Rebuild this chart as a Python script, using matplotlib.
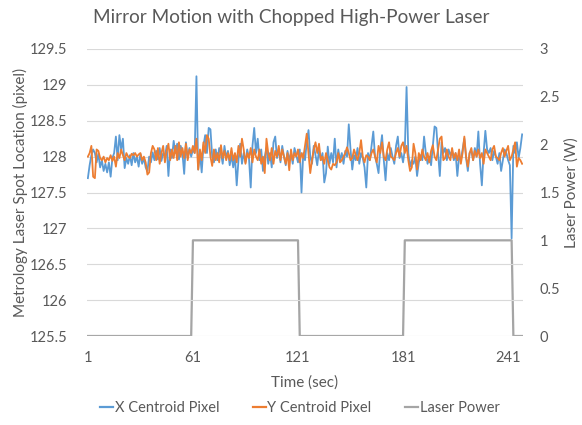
import matplotlib
matplotlib.use("Agg")
import matplotlib.pyplot as plt
from matplotlib.lines import Line2D

plt.rcParams['font.family'] = ['Lato', 'DejaVu Sans']

x_centroid = [
    127.70, 127.88, 128.02, 128.10, 128.05, 127.92, 128.04, 127.85, 127.95, 127.80,
    127.90, 127.78, 127.92, 127.72, 127.98, 128.05, 128.28, 127.95, 128.30, 128.10,
    128.25, 127.84, 127.98, 127.90, 128.02, 127.88, 128.05, 127.92, 128.00, 127.86,
    128.04, 127.90, 127.98, 127.85, 127.80, 128.00, 127.92, 128.06, 127.95, 128.08,
    127.96, 128.12, 127.94, 128.05, 128.00, 128.15, 127.73, 128.10, 127.98, 128.22,
    128.05, 128.18, 127.96, 128.15, 128.05, 127.76, 128.20, 127.98, 128.12, 128.00,
    128.10, 128.05, 129.12, 127.82, 128.05, 127.78, 128.15, 128.30, 128.05, 128.40,
    128.38, 128.00, 127.92, 128.10, 127.95, 128.12, 128.05, 127.90, 128.15, 127.98,
    128.08, 127.88, 128.02, 127.85, 128.00, 127.60, 127.95, 128.18, 127.90, 128.05,
    127.92, 128.10, 127.98, 127.57, 128.15, 128.40, 128.05, 128.25, 127.95, 128.10,
    127.80, 128.00, 128.12, 127.90, 128.05, 127.85, 128.20, 128.28, 127.98, 128.10,
    127.92, 128.15, 128.00, 127.88, 128.08, 127.95, 128.05, 127.90, 128.12, 128.02,
    127.92, 128.10, 127.50, 128.05, 127.95, 128.20, 128.37, 128.00, 127.90, 128.15,
    128.02, 127.88, 128.10, 127.95, 128.05, 127.64, 127.77, 128.14, 127.90, 128.05,
    127.92, 128.25, 127.85, 128.10, 127.95, 128.05, 127.90, 128.08, 128.00, 128.45,
    128.10, 127.82, 128.02, 127.95, 128.12, 127.90, 128.05, 127.98, 127.85, 127.57,
    128.05, 127.95, 128.15, 128.35, 128.00, 127.90, 127.77, 128.10, 128.30, 127.95,
    127.67, 128.05, 127.95, 128.12, 128.00, 127.90, 128.15, 128.28, 127.98, 128.05,
    127.92, 128.10, 128.97, 128.05, 127.86, 127.95, 127.90, 128.00, 127.73, 127.92,
    128.02, 127.95, 128.28, 128.05, 127.90, 128.00, 127.88, 128.15, 128.42, 128.40,
    128.05, 127.73, 128.20, 128.05, 128.12, 127.95, 128.10, 128.02, 128.08, 127.95,
    128.05, 127.73, 128.00, 127.95, 128.10, 128.25, 127.98, 127.80, 128.05, 128.08,
    127.95, 128.12, 128.00, 128.35, 127.90, 127.60, 128.05, 128.36, 128.10, 128.05,
    128.12, 127.95, 128.08, 128.00, 127.90, 128.05, 127.80, 127.95, 128.10, 128.05,
    127.95, 127.88, 126.86, 128.15, 128.05, 128.20, 127.98, 128.12, 128.31,
]

y_centroid = [
    128.00, 128.05, 128.15, 127.72, 127.70, 128.10, 128.08, 127.98, 127.95, 128.00,
    127.92, 127.98, 127.95, 128.02, 127.94, 128.00, 127.86, 128.05, 127.98, 128.10,
    128.02, 127.95, 128.05, 128.00, 127.98, 128.04, 128.02, 128.05, 128.00, 128.03,
    128.05, 127.95, 128.00, 127.92, 127.75, 127.78, 128.05, 128.15, 128.10, 127.95,
    128.12, 127.90, 128.05, 128.15, 127.92, 128.08, 128.18, 127.95, 128.10, 127.98,
    128.15, 127.95, 128.20, 128.00, 128.12, 127.98, 128.18, 127.95, 128.10, 128.05,
    128.15, 128.05, 128.25, 127.82, 128.10, 127.95, 128.20, 128.05, 128.30, 128.25,
    128.00, 127.87, 128.10, 127.95, 128.05, 127.92, 128.16, 127.98, 128.08, 127.95,
    128.05, 127.95, 128.12, 127.95, 128.05, 127.92, 128.15, 128.00, 128.25, 128.10,
    127.90, 128.05, 127.98, 128.12, 127.92, 128.10, 128.00, 127.95, 128.10, 127.90,
    128.00, 127.77, 128.25, 128.05, 127.95, 128.12, 127.90, 128.08, 128.00, 128.15,
    127.95, 128.10, 128.00, 127.90, 128.05, 127.81, 128.10, 127.95, 128.05, 128.00,
    128.10, 127.92, 128.05, 127.98, 128.15, 128.32, 128.05, 127.77, 127.95, 128.10,
    128.20, 128.05, 128.18, 127.95, 128.00, 127.90, 128.05, 127.95, 127.85, 127.82,
    127.90, 127.88, 127.92, 128.05, 127.92, 127.95, 128.00, 128.05, 128.13, 128.05,
    127.95, 127.98, 128.10, 128.02, 127.95, 128.05, 128.23, 128.00, 127.92, 128.02,
    128.00, 127.95, 128.05, 128.10, 128.00, 127.92, 128.15, 128.05, 128.20, 128.00,
    127.95, 128.10, 128.20, 128.00, 127.98, 127.95, 128.05, 128.12, 128.00, 128.15,
    128.20, 128.05, 128.15, 127.95, 127.80, 127.85, 128.18, 128.05, 127.82, 128.05,
    127.95, 128.10, 128.00, 127.95, 128.05, 127.92, 128.08, 128.16, 128.00, 127.95,
    128.10, 128.25, 128.28, 127.95, 127.98, 128.10, 128.00, 127.95, 128.12, 127.98,
    128.05, 127.95, 128.10, 127.90, 128.05, 128.28, 128.00, 127.86, 128.05, 128.12,
    127.95, 128.08, 128.00, 128.10, 127.98, 128.05, 127.90, 128.10, 128.05, 128.00,
    127.95, 128.10, 128.15, 128.00, 127.98, 127.95, 128.05, 128.12, 128.00, 128.08,
    128.15, 127.95, 128.00, 128.10, 128.20, 127.86, 127.98, 127.95, 127.90,
]

# laser power: off 1-60, on 61-121, off 122-181, on 182-243, off 244-249
laser_power = [0] * 60 + [1] * 61 + [0] * 60 + [1] * 62 + [0] * 6

time_sec = list(range(1, len(x_centroid) + 1))
x_tick_labels = [1, 61, 121, 181, 241]
left_ticks = [125.5, 126, 126.5, 127, 127.5, 128, 128.5, 129, 129.5]
right_ticks = [0, 0.5, 1, 1.5, 2, 2.5, 3]

BLUE = '#5B9BD5'
ORANGE = '#ED7D31'
GRAY = '#A5A5A5'
TXT = '#595959'
GRID = '#D9D9D9'

fig = plt.figure(figsize=(5.82, 4.25), dpi=100)
ax = fig.add_axes([87 / 582, 1 - 336 / 425, (523 - 87) / 582, (336 - 49) / 425])
ax2 = ax.twinx()

ax.plot(time_sec, x_centroid, color=BLUE, lw=1.3, zorder=3)
ax.plot(time_sec, y_centroid, color=ORANGE, lw=1.3, zorder=3)
ax2.plot(time_sec, laser_power, color=GRAY, lw=1.6, zorder=2)

ax.set_zorder(ax2.get_zorder() + 1)
ax.patch.set_visible(False)

n = len(time_sec)
ax.set_xlim(0.5, n + 0.5)
ax.set_ylim(125.5, 129.5)
ax2.set_ylim(0, 3)
ax.set_yticks(left_ticks)
ax.set_yticklabels([f'{v:g}' for v in left_ticks])
ax2.set_yticks(right_ticks)
ax2.set_yticklabels([f'{v:g}' for v in right_ticks])
ax.set_xticks(x_tick_labels)

ax.grid(axis='y', color=GRID, lw=0.8)
ax.set_axisbelow(True)
for a in (ax, ax2):
    for s in a.spines.values():
        s.set_visible(False)
    a.tick_params(length=0, labelsize=10.5, colors=TXT)
ax.tick_params(axis='y', pad=14)
ax.tick_params(axis='x', pad=11)
ax2.tick_params(axis='y', pad=12)

ax.set_xlabel('Time (sec)', fontsize=11, color=TXT, labelpad=7)
ax.set_ylabel('Metrology Laser Spot Location (pixel)', fontsize=11, color=TXT, labelpad=1)
ax2.set_ylabel('Laser Power (W)', fontsize=11, color=TXT, rotation=90, labelpad=3)

fig.text(0.5, 1 - 18 / 425, 'Mirror Motion with Chopped High-Power Laser',
         ha='center', va='center', fontsize=13.7, color=TXT)

handles = [Line2D([], [], color=BLUE, lw=1.6),
           Line2D([], [], color=ORANGE, lw=1.6),
           Line2D([], [], color=GRAY, lw=1.6)]
fig.legend(handles, ['X Centroid Pixel', 'Y Centroid Pixel', 'Laser Power'],
           loc='center', bbox_to_anchor=(0.515, 1 - 408 / 425), ncol=3, frameon=False,
           fontsize=10.5, labelcolor=TXT, handlelength=0.9, handletextpad=0.1,
           columnspacing=2.3)

fig.savefig('out.png', dpi=100)
